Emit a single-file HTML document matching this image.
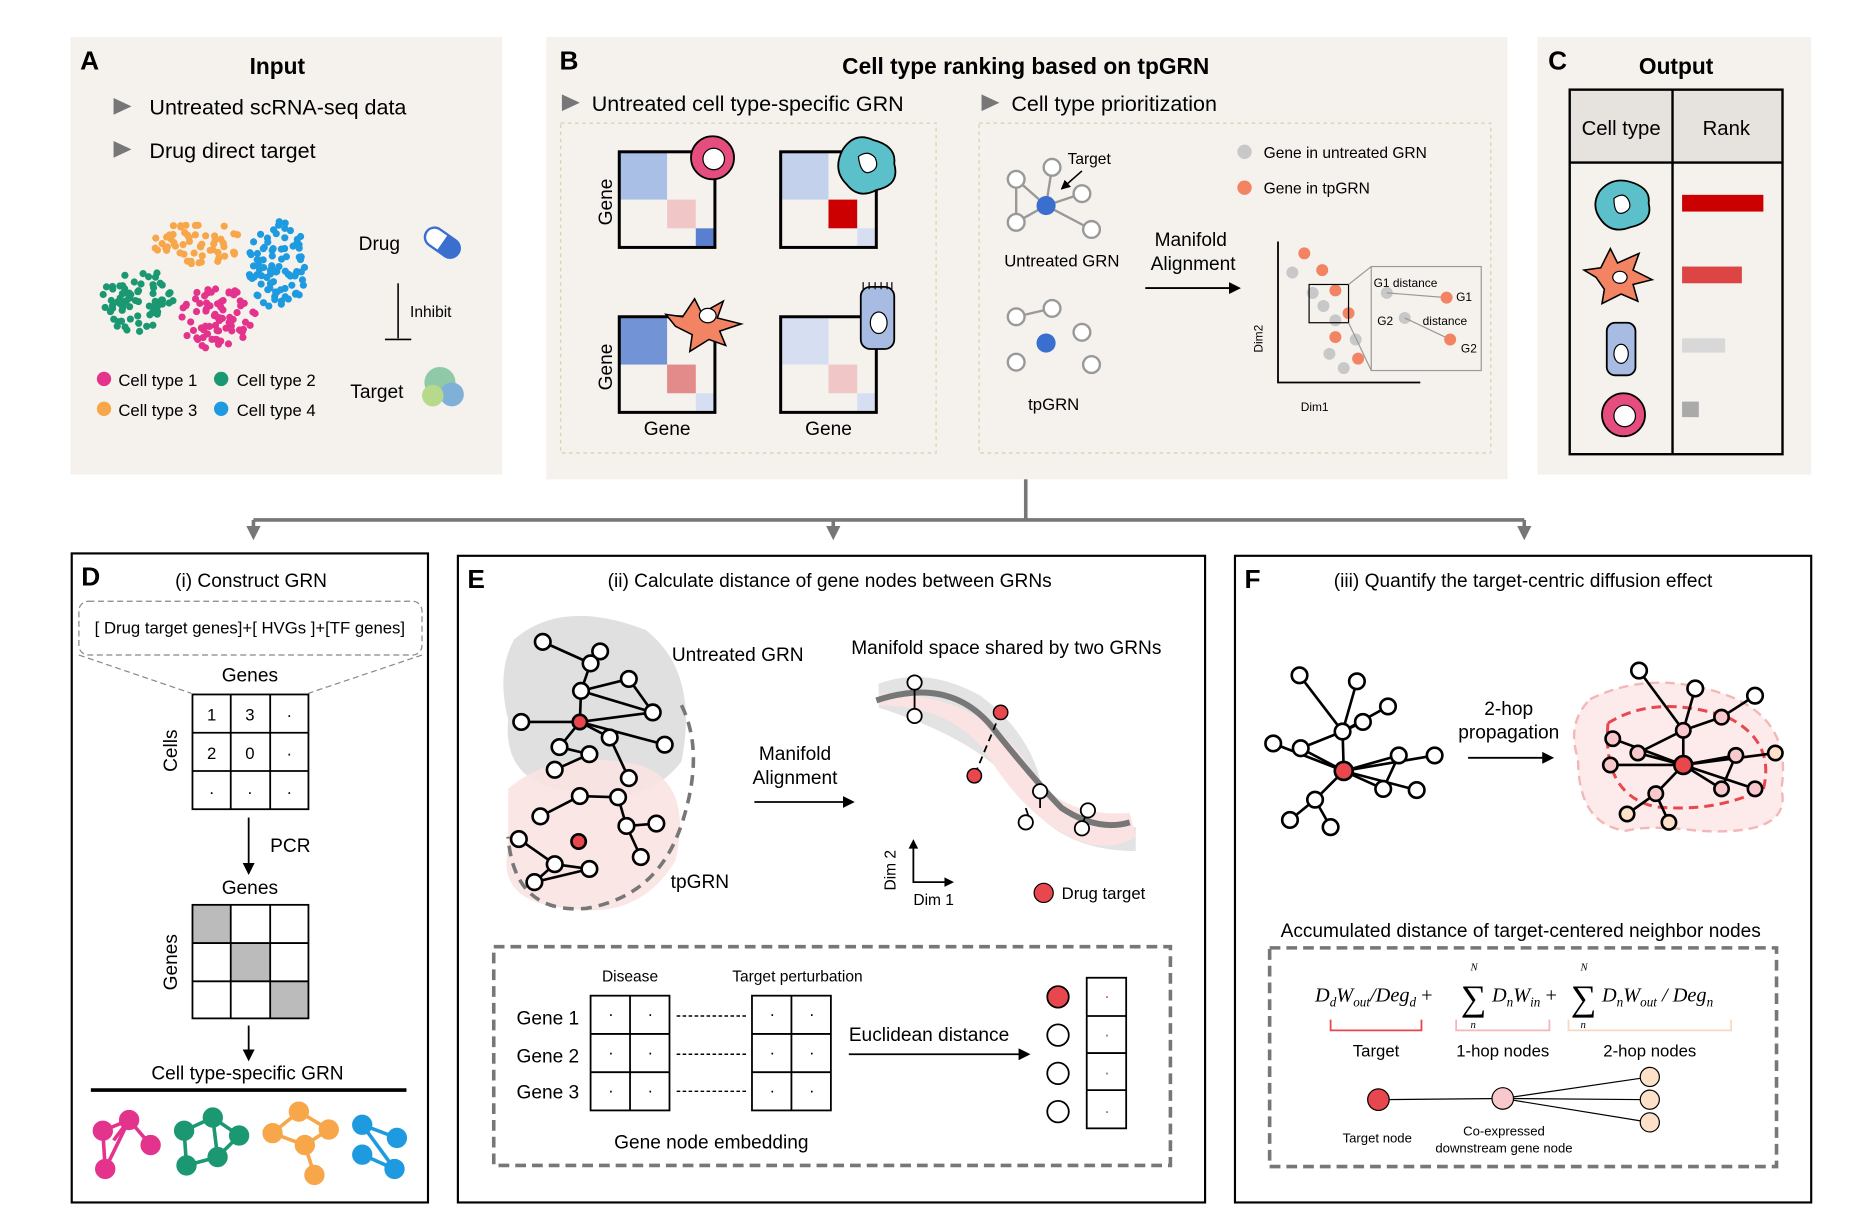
<!DOCTYPE html>
<html><head><meta charset="utf-8"><style>
html,body{margin:0;padding:0;background:#fff;}
svg{display:block;font-family:"Liberation Sans",Arial,sans-serif;}
</style></head><body>
<svg id="s" width="1865" height="1218" viewBox="0 0 1560 1019" preserveAspectRatio="none" xmlns="http://www.w3.org/2000/svg">
<defs>
<marker id="ah" markerWidth="10" markerHeight="10" refX="8" refY="5" orient="auto" markerUnits="userSpaceOnUse"><path d="M0,0 L10,5 L0,10 z" fill="#000"/></marker>
<marker id="ag" markerWidth="12" markerHeight="12" refX="6" refY="6" orient="auto" markerUnits="userSpaceOnUse"><path d="M0,0 L12,6 L0,12 z" fill="#777"/></marker>
<marker id="as" markerWidth="8" markerHeight="8" refX="7" refY="4" orient="auto" markerUnits="userSpaceOnUse"><path d="M0,0 L8,4 L0,8 z" fill="#000"/></marker>
</defs>
<!-- Panel backgrounds -->
<rect x="59" y="31" width="361" height="366" fill="#f5f2ee"/>
<rect x="457" y="31" width="804" height="370" fill="#f5f2ee"/>
<rect x="1286" y="31" width="229" height="366" fill="#f5f2ee"/>

<!-- A -->
<text x="67" y="58" font-size="22" font-weight="bold">A</text>
<text x="232" y="62" font-size="19" font-weight="bold" text-anchor="middle">Input</text>
<path d="M95,82 L110,89 L95,96z" fill="#777"/><text x="125" y="96" font-size="18">Untreated scRNA-seq data</text>
<path d="M95,118 L110,125 L95,132z" fill="#777"/><text x="125" y="132" font-size="18">Drug direct target</text>
<g id="dots"></g>
<text x="300" y="209" font-size="16">Drug</text>
<g transform="translate(370,203) rotate(35)"><rect x="-16" y="-8" width="32" height="16" rx="8" fill="#fff" stroke="#3a6fd0" stroke-width="2"/><path d="M0,-8 h8 a8,8 0 0 1 0,16 h-8z" fill="#3a6fd0"/></g>
<line x1="333" y1="237" x2="333" y2="283" stroke="#000" stroke-width="1.3"/><line x1="322" y1="284" x2="344" y2="284" stroke="#000" stroke-width="1.3"/>
<text x="343" y="265" font-size="13">Inhibit</text>
<text x="293" y="333" font-size="16">Target</text>
<g><circle cx="368" cy="320" r="13" fill="#8fc9a8"/><circle cx="378" cy="330" r="10" fill="#7fb0d8"/><circle cx="362" cy="331" r="9" fill="#b7d98b"/></g>
<circle cx="87" cy="317" r="6" fill="#e4338c"/><text x="99" y="323" font-size="14">Cell type 1</text>
<circle cx="185" cy="317" r="6" fill="#1b9772"/><text x="198" y="323" font-size="14">Cell type 2</text>
<circle cx="87" cy="342" r="6" fill="#f7a64a"/><text x="99" y="348" font-size="14">Cell type 3</text>
<circle cx="185" cy="342" r="6" fill="#1e9be0"/><text x="198" y="348" font-size="14">Cell type 4</text>

<!-- B -->
<text x="468" y="58" font-size="22" font-weight="bold">B</text>
<text x="858" y="62" font-size="19" font-weight="bold" text-anchor="middle">Cell type ranking based on tpGRN</text>
<path d="M470,79 L485,86 L470,93z" fill="#777"/><text x="495" y="93" font-size="18">Untreated cell type-specific GRN</text>
<path d="M821,79 L836,86 L821,93z" fill="#777"/><text x="846" y="93" font-size="18">Cell type prioritization</text>
<rect x="469" y="103" width="314" height="276" fill="none" stroke="#d8cfae" stroke-dasharray="3,3"/>
<rect x="819" y="103" width="428" height="276" fill="none" stroke="#d8cfae" stroke-dasharray="3,3"/>
<!-- matrices -->
<g stroke="none">
<rect x="518" y="127" width="40" height="40" fill="#a9bfe5"/><rect x="558" y="167" width="24" height="24" fill="#f1c6c6"/><rect x="582" y="191" width="16" height="16" fill="#5b7fcf"/>
<rect x="653" y="127" width="40" height="40" fill="#c4d1ec"/><rect x="693" y="167" width="24" height="24" fill="#c00"/><rect x="717" y="191" width="16" height="16" fill="#d6def2"/>
<rect x="518" y="265" width="40" height="40" fill="#7294d6"/><rect x="558" y="305" width="24" height="24" fill="#e38b8b"/><rect x="582" y="329" width="16" height="16" fill="#d6def2"/>
<rect x="653" y="265" width="40" height="40" fill="#d6def2"/><rect x="693" y="305" width="24" height="24" fill="#f1c6c6"/><rect x="717" y="329" width="16" height="16" fill="#d6def2"/>
</g>
<g fill="none" stroke="#000" stroke-width="2.5">
<rect x="518" y="127" width="80" height="80"/><rect x="653" y="127" width="80" height="80"/>
<rect x="518" y="265" width="80" height="80"/><rect x="653" y="265" width="80" height="80"/>
</g>
<text transform="translate(512,169) rotate(-90)" font-size="16" text-anchor="middle">Gene</text>
<text transform="translate(512,307) rotate(-90)" font-size="16" text-anchor="middle">Gene</text>
<text x="558" y="364" font-size="16" text-anchor="middle">Gene</text>
<text x="693" y="364" font-size="16" text-anchor="middle">Gene</text>
<!-- cell icons -->
<circle cx="596" cy="132" r="18" fill="#e54d7f" stroke="#000" stroke-width="1.5"/><circle cx="597" cy="133" r="9" fill="#fff" stroke="#000"/>
<path d="M705,125 q10,-15 25,-8 q20,5 18,20 q5,18 -15,22 q-15,8 -25,-5 q-12,-12 -3,-29z" fill="#5bc0c9" stroke="#000" stroke-width="1.5"/><path d="M718,131 q8,-6 14,1 q4,9 -4,12 q-8,3 -10,-13z" fill="#fff" stroke="#000"/>
<path d="M565,273 l-8,-10 l14,2 l10,-15 l6,12 l18,-10 l-5,14 l20,5 l-18,6 l5,12 l-14,-5 l-16,10 l2,-14z" fill="#f28363" stroke="#000" stroke-width="1.3"/><ellipse cx="592" cy="264" rx="7" ry="6" fill="#fff" stroke="#000"/>
<rect x="720" y="240" width="28" height="52" rx="8" fill="#a8bce3" stroke="#000" stroke-width="1.5"/><path d="M722,242 v-6 M727,242 v-6 M732,242 v-6 M737,242 v-6 M742,242 v-6 M746,242 v-6" stroke="#000"/><ellipse cx="735" cy="270" rx="7" ry="9" fill="#fff" stroke="#000"/>
<!-- graphs in B -->
<g stroke="#999" stroke-width="2" fill="#fff">
<line x1="875" y1="172" x2="850" y2="150"/><line x1="875" y1="172" x2="880" y2="140"/><line x1="875" y1="172" x2="905" y2="162"/><line x1="875" y1="172" x2="850" y2="186"/><line x1="875" y1="172" x2="913" y2="192"/><line x1="850" y1="186" x2="850" y2="150"/>
<circle cx="850" cy="150" r="7"/><circle cx="880" cy="140" r="7"/><circle cx="905" cy="162" r="7"/><circle cx="850" cy="186" r="7"/><circle cx="913" cy="192" r="7"/>
<line x1="850" y1="265" x2="880" y2="258"/>
<circle cx="850" cy="265" r="7"/><circle cx="880" cy="258" r="7"/><circle cx="905" cy="278" r="7"/><circle cx="850" cy="303" r="7"/><circle cx="913" cy="305" r="7"/>
</g>
<circle cx="875" cy="172" r="8" fill="#3a6fd0"/><circle cx="875" cy="287" r="8" fill="#3a6fd0"/>
<line x1="905" y1="143" x2="888" y2="158" stroke="#000" stroke-width="1.3" marker-end="url(#as)"/>
<text x="893" y="137" font-size="13">Target</text>
<text x="840" y="223" font-size="14">Untreated GRN</text>
<text x="860" y="343" font-size="14">tpGRN</text>
<text x="996" y="206" font-size="16" text-anchor="middle">Manifold</text>
<text x="998" y="226" font-size="16" text-anchor="middle">Alignment</text>
<line x1="958" y1="241" x2="1036" y2="241" stroke="#000" stroke-width="1.5" marker-end="url(#ah)"/>
<circle cx="1041" cy="127" r="6" fill="#c8c8c8"/><text x="1057" y="132" font-size="13">Gene in untreated GRN</text>
<circle cx="1041" cy="157" r="6" fill="#f28363"/><text x="1057" y="162" font-size="13">Gene in tpGRN</text>
<polyline points="1069,202 1069,320 1188,320" fill="none" stroke="#000" stroke-width="1.5"/>
<text transform="translate(1056,295) rotate(-90)" font-size="10">Dim2</text>
<text x="1088" y="344" font-size="10">Dim1</text>
<g fill="#c8c8c8"><circle cx="1081" cy="228" r="5"/><circle cx="1098" cy="245" r="5"/><circle cx="1107" cy="256" r="5"/><circle cx="1117" cy="268" r="5"/><circle cx="1112" cy="296" r="5"/><circle cx="1124" cy="308" r="5"/><circle cx="1134" cy="284" r="5"/></g>
<g fill="#f28363"><circle cx="1091" cy="212" r="5"/><circle cx="1106" cy="226" r="5"/><circle cx="1117" cy="243" r="5"/><circle cx="1128" cy="262" r="5"/><circle cx="1117" cy="282" r="5"/><circle cx="1136" cy="300" r="5"/></g>
<rect x="1095" y="238" width="33" height="32" fill="none" stroke="#000"/>
<line x1="1128" y1="238" x2="1147" y2="223" stroke="#999"/><line x1="1128" y1="270" x2="1147" y2="310" stroke="#999"/>
<rect x="1147" y="223" width="92" height="87" fill="#f5f2ee" stroke="#999"/>
<text x="1149" y="240" font-size="10">G1 distance</text><circle cx="1160" cy="245" r="5" fill="#c8c8c8"/><line x1="1160" y1="245" x2="1210" y2="249" stroke="#999"/><circle cx="1210" cy="249" r="5" fill="#f28363"/><text x="1218" y="252" font-size="10">G1</text>
<text x="1152" y="272" font-size="10">G2</text><circle cx="1175" cy="266" r="5" fill="#c8c8c8"/><line x1="1175" y1="266" x2="1213" y2="284" stroke="#999"/><circle cx="1213" cy="284" r="5" fill="#f28363"/><text x="1190" y="272" font-size="10">distance</text><text x="1222" y="295" font-size="10">G2</text>

<!-- C -->
<text x="1295" y="58" font-size="22" font-weight="bold">C</text>
<text x="1402" y="62" font-size="19" font-weight="bold" text-anchor="middle">Output</text>
<rect x="1313" y="75" width="178" height="61" fill="#e6e2de"/>
<rect x="1313" y="75" width="178" height="305" fill="none" stroke="#000" stroke-width="2"/>
<line x1="1313" y1="136" x2="1491" y2="136" stroke="#000" stroke-width="2"/>
<line x1="1399" y1="75" x2="1399" y2="380" stroke="#000" stroke-width="2"/>
<text x="1356" y="113" font-size="17" text-anchor="middle">Cell type</text>
<text x="1444" y="113" font-size="17" text-anchor="middle">Rank</text>
<path d="M1338,160 q10,-12 25,-8 q18,5 16,18 q4,16 -15,20 q-15,6 -24,-5 q-10,-12 -2,-25z" fill="#5bc0c9" stroke="#000" stroke-width="1.5"/><path d="M1350,166 q8,-6 12,1 q4,8 -4,11 q-8,3 -8,-12z" fill="#fff" stroke="#000"/>
<path d="M1335,232 l-10,-6 l14,-2 l8,-16 l6,12 l18,-8 l-5,14 l16,8 l-16,4 l4,14 l-14,-6 l-16,8 l2,-12z" fill="#f28363" stroke="#000" stroke-width="1.3"/><ellipse cx="1355" cy="232" rx="6" ry="5" fill="#fff" stroke="#000"/>
<rect x="1344" y="270" width="24" height="44" rx="7" fill="#a8bce3" stroke="#000" stroke-width="1.5"/><ellipse cx="1356" cy="296" rx="6" ry="8" fill="#fff" stroke="#000"/>
<circle cx="1358" cy="347" r="18" fill="#e54d7f" stroke="#000" stroke-width="1.5"/><circle cx="1359" cy="348" r="9" fill="#fff" stroke="#000"/>
<rect x="1407" y="163" width="68" height="14" fill="#c00"/>
<rect x="1407" y="223" width="50" height="14" fill="#d44"/>
<rect x="1407" y="283" width="36" height="12" fill="#d8d8d8"/>
<rect x="1407" y="336" width="14" height="13" fill="#aaa"/>

<!-- connectors -->
<g stroke="#777" stroke-width="3" fill="none">
<line x1="858" y1="401" x2="858" y2="435"/><line x1="212" y1="435" x2="1275" y2="435"/>
<line x1="212" y1="435" x2="212" y2="446" marker-end="url(#ag)"/>
<line x1="697" y1="435" x2="697" y2="446" marker-end="url(#ag)"/>
<line x1="1275" y1="435" x2="1275" y2="446" marker-end="url(#ag)"/>
</g>

<!-- D -->
<rect x="60" y="463" width="298" height="543" fill="none" stroke="#000" stroke-width="1.8"/>
<text x="68" y="490" font-size="22" font-weight="bold">D</text>
<text x="210" y="491" font-size="16" text-anchor="middle">(i) Construct GRN</text>
<rect x="66" y="503" width="287" height="45" rx="8" fill="none" stroke="#888" stroke-dasharray="5,3"/>
<text x="209" y="530" font-size="14" text-anchor="middle">[ Drug target genes]+[ HVGs ]+[TF genes]</text>
<line x1="66" y1="548" x2="160" y2="580" stroke="#888" stroke-dasharray="5,3"/><line x1="353" y1="548" x2="258" y2="580" stroke="#888" stroke-dasharray="5,3"/>
<text x="209" y="570" font-size="16" text-anchor="middle">Genes</text>
<g stroke="#000" stroke-width="1.5" fill="none"><rect x="161" y="581" width="97" height="96"/><line x1="193" y1="581" x2="193" y2="677"/><line x1="226" y1="581" x2="226" y2="677"/><line x1="161" y1="613" x2="258" y2="613"/><line x1="161" y1="645" x2="258" y2="645"/></g>
<g font-size="14" text-anchor="middle"><text x="177" y="603">1</text><text x="209" y="603">3</text><text x="242" y="603">·</text><text x="177" y="635">2</text><text x="209" y="635">0</text><text x="242" y="635">·</text><text x="177" y="667">·</text><text x="209" y="667">·</text><text x="242" y="667">·</text></g>
<text transform="translate(148,628) rotate(-90)" font-size="16" text-anchor="middle">Cells</text>
<line x1="208" y1="684" x2="208" y2="730" stroke="#000" stroke-width="1.5" marker-end="url(#ah)"/>
<text x="226" y="713" font-size="16">PCR</text>
<text x="209" y="748" font-size="16" text-anchor="middle">Genes</text>
<g fill="#bbb"><rect x="161" y="757" width="32" height="32"/><rect x="193" y="789" width="33" height="32"/><rect x="226" y="821" width="32" height="31"/></g>
<g stroke="#000" stroke-width="1.5" fill="none"><rect x="161" y="757" width="97" height="95"/><line x1="193" y1="757" x2="193" y2="852"/><line x1="226" y1="757" x2="226" y2="852"/><line x1="161" y1="789" x2="258" y2="789"/><line x1="161" y1="821" x2="258" y2="821"/></g>
<text transform="translate(148,805) rotate(-90)" font-size="16" text-anchor="middle">Genes</text>
<line x1="208" y1="858" x2="208" y2="886" stroke="#000" stroke-width="1.5" marker-end="url(#ah)"/>
<text x="207" y="903" font-size="16" text-anchor="middle">Cell type-specific GRN</text>
<line x1="76" y1="912" x2="340" y2="912" stroke="#000" stroke-width="3"/>
<g stroke-width="3">
<g stroke="#e4338c" fill="#e4338c"><line x1="86" y1="946" x2="108" y2="937"/><line x1="108" y1="937" x2="126" y2="958"/><line x1="86" y1="946" x2="88" y2="978"/><line x1="108" y1="937" x2="88" y2="978"/><line x1="108" y1="937" x2="95" y2="954"/><circle cx="86" cy="946" r="7"/><circle cx="108" cy="937" r="7"/><circle cx="126" cy="958" r="7"/><circle cx="88" cy="978" r="7"/></g>
<g stroke="#1b9772" fill="#1b9772"><line x1="154" y1="946" x2="178" y2="935"/><line x1="178" y1="935" x2="200" y2="950"/><line x1="154" y1="946" x2="156" y2="975"/><line x1="156" y1="975" x2="182" y2="968"/><line x1="178" y1="935" x2="182" y2="968"/><line x1="200" y1="950" x2="182" y2="968"/><circle cx="154" cy="946" r="7"/><circle cx="178" cy="935" r="7"/><circle cx="200" cy="950" r="7"/><circle cx="156" cy="975" r="7"/><circle cx="182" cy="968" r="7"/></g>
<g stroke="#f7a64a" fill="#f7a64a"><line x1="228" y1="948" x2="250" y2="930"/><line x1="250" y1="930" x2="275" y2="945"/><line x1="228" y1="948" x2="255" y2="958"/><line x1="255" y1="958" x2="275" y2="945"/><line x1="255" y1="958" x2="263" y2="983"/><circle cx="228" cy="948" r="7"/><circle cx="250" cy="930" r="7"/><circle cx="275" cy="945" r="7"/><circle cx="255" cy="958" r="7"/><circle cx="263" cy="983" r="7"/></g>
<g stroke="#1e9be0" fill="#1e9be0"><line x1="303" y1="941" x2="332" y2="952"/><line x1="303" y1="941" x2="330" y2="978"/><line x1="303" y1="966" x2="330" y2="978"/><circle cx="303" cy="941" r="7"/><circle cx="332" cy="952" r="7"/><circle cx="303" cy="966" r="7"/><circle cx="330" cy="978" r="7"/></g>
</g>

<!-- E -->
<rect x="383" y="465" width="625" height="541" fill="none" stroke="#000" stroke-width="1.8"/>
<text x="391" y="492" font-size="22" font-weight="bold">E</text>
<text x="694" y="491" font-size="16" text-anchor="middle">(ii) Calculate distance of gene nodes between GRNs</text>
<path d="M430,535 q40,-35 110,-8 q45,35 30,110 q-30,40 -90,25 q-60,-5 -55,-60 q-10,-40 5,-67z" fill="#e0e0e0"/>
<path d="M425,660 q40,-35 110,-20 q45,15 30,80 q-30,50 -90,40 q-60,-5 -50,-50z" fill="#fbe3e3" opacity="0.9"/>
<path d="M570,590 q20,40 0,100 q-20,60 -80,70 q-60,5 -65,-60" fill="none" stroke="#777" stroke-width="3" stroke-dasharray="9,6"/>
<g id="eg" stroke="#000" stroke-width="2.2" fill="#fff"></g>
<text x="562" y="553" font-size="16">Untreated GRN</text>
<text x="561" y="743" font-size="16">tpGRN</text>
<text x="665" y="636" font-size="16" text-anchor="middle">Manifold</text>
<text x="665" y="656" font-size="16" text-anchor="middle">Alignment</text>
<line x1="631" y1="671" x2="713" y2="671" stroke="#000" stroke-width="1.5" marker-end="url(#ah)"/>
<text x="712" y="547" font-size="16">Manifold space shared by two GRNs</text>
<path d="M735,572 q40,-15 85,10 q40,30 50,70 q20,40 80,40 l0,20 q-60,0 -90,-40 q-30,-50 -125,-80z" fill="#e3e3e3"/>
<path d="M735,590 q60,0 90,40 q30,50 70,70 q30,15 55,0 l-5,-20 q-60,5 -85,-40 q-40,-60 -125,-60z" fill="#fbe3e3"/>
<path d="M733,586 q60,-20 95,20 q40,50 60,70 q30,20 57,12" fill="none" stroke="#777" stroke-width="5"/>
<g stroke="#000" stroke-width="1.5"><line x1="765" y1="572" x2="765" y2="598"/><line x1="870" y1="662" x2="870" y2="676"/><line x1="910" y1="678" x2="905" y2="690"/><line x1="858" y1="676" x2="862" y2="688"/></g>
<line x1="837" y1="596" x2="815" y2="649" stroke="#000" stroke-width="1.5" stroke-dasharray="6,4"/>
<g stroke="#000" stroke-width="1.5" fill="#fff"><circle cx="765" cy="571" r="6"/><circle cx="765" cy="599" r="6"/><circle cx="870" cy="662" r="6"/><circle cx="910" cy="678" r="6"/><circle cx="858" cy="688" r="6"/><circle cx="905" cy="693" r="6"/></g>
<g fill="#e8474e" stroke="#000" stroke-width="1.2"><circle cx="837" cy="596" r="6"/><circle cx="815" cy="649" r="6"/></g>
<polyline points="764,705 764,738 796,738" fill="none" stroke="#000" stroke-width="1.5"/><path d="M760,710 l4,-8 l4,8z"/><path d="M790,734 l8,4 l-8,4z"/>
<text transform="translate(749,745) rotate(-90)" font-size="13">Dim 2</text>
<text x="764" y="757" font-size="13">Dim 1</text>
<circle cx="873" cy="747" r="8" fill="#e8474e" stroke="#000"/><text x="888" y="752" font-size="14">Drug target</text>
<rect x="413" y="792" width="566" height="183" fill="none" stroke="#777" stroke-width="3" stroke-dasharray="9,5"/>
<text x="527" y="821" font-size="13" text-anchor="middle">Disease</text>
<text x="667" y="821" font-size="13" text-anchor="middle">Target perturbation</text>
<g stroke="#000" stroke-width="1.5" fill="none">
<rect x="494" y="833" width="66" height="96"/><line x1="527" y1="833" x2="527" y2="929"/><line x1="494" y1="865" x2="560" y2="865"/><line x1="494" y1="897" x2="560" y2="897"/>
<rect x="629" y="833" width="66" height="96"/><line x1="662" y1="833" x2="662" y2="929"/><line x1="629" y1="865" x2="695" y2="865"/><line x1="629" y1="897" x2="695" y2="897"/>
<rect x="909" y="818" width="33" height="126"/><line x1="909" y1="850" x2="942" y2="850"/><line x1="909" y1="881" x2="942" y2="881"/><line x1="909" y1="912" x2="942" y2="912"/>
</g>
<g font-size="14" text-anchor="middle"><text x="511" y="853">·</text><text x="544" y="853">·</text><text x="511" y="885">·</text><text x="544" y="885">·</text><text x="511" y="917">·</text><text x="544" y="917">·</text><text x="646" y="853">·</text><text x="679" y="853">·</text><text x="646" y="885">·</text><text x="679" y="885">·</text><text x="646" y="917">·</text><text x="679" y="917">·</text><text x="926" y="838" fill="#e8474e">·</text><text x="926" y="870" fill="#777">·</text><text x="926" y="902" fill="#777">·</text><text x="926" y="934" fill="#777">·</text></g>
<text x="432" y="857" font-size="16">Gene 1</text><text x="432" y="889" font-size="16">Gene 2</text><text x="432" y="919" font-size="16">Gene 3</text>
<g stroke="#000" stroke-dasharray="3,2" stroke-width="1.2"><line x1="566" y1="850" x2="624" y2="850"/><line x1="566" y1="882" x2="624" y2="882"/><line x1="566" y1="913" x2="624" y2="913"/></g>
<text x="595" y="961" font-size="16" text-anchor="middle">Gene node embedding</text>
<text x="710" y="871" font-size="16">Euclidean distance</text>
<line x1="710" y1="882" x2="860" y2="882" stroke="#000" stroke-width="1.5" marker-end="url(#ah)"/>
<g stroke="#000" stroke-width="1.5" fill="#fff"><circle cx="885" cy="834" r="9" fill="#e8474e"/><circle cx="885" cy="866" r="9"/><circle cx="885" cy="898" r="9"/><circle cx="885" cy="930" r="9"/></g>

<!-- F -->
<rect x="1033" y="465" width="482" height="541" fill="none" stroke="#000" stroke-width="1.8"/>
<text x="1041" y="492" font-size="22" font-weight="bold">F</text>
<text x="1274" y="491" font-size="16" text-anchor="middle">(iii) Quantify the target-centric diffusion effect</text>
<path d="M1330,585 q50,-25 110,-5 q60,20 50,80 q10,40 -70,35 q-40,-5 -60,0 q-40,-5 -40,-60 q-10,-30 10,-50z" fill="#fdeaea" stroke="#f4b7b7" stroke-width="2" stroke-dasharray="8,5"/>
<path d="M1345,605 q40,-25 100,-5 q40,20 30,60 q-40,20 -90,15 q-45,-10 -40,-70z" fill="none" stroke="#e8474e" stroke-width="2.5" stroke-dasharray="8,5"/>
<g id="fg" stroke="#000" stroke-width="2.2" fill="#fff"></g>
<text x="1262" y="598" font-size="16" text-anchor="middle">2-hop</text>
<text x="1262" y="618" font-size="16" text-anchor="middle">propagation</text>
<line x1="1228" y1="634" x2="1298" y2="634" stroke="#000" stroke-width="1.5" marker-end="url(#ah)"/>
<text x="1272" y="784" font-size="16" text-anchor="middle">Accumulated distance of target-centered neighbor nodes</text>
<rect x="1062" y="793" width="424" height="183" fill="none" stroke="#777" stroke-width="3" stroke-dasharray="9,5"/>
<g font-family="Liberation Serif,serif" font-style="italic" font-size="17">
<text x="1100" y="838">D<tspan font-size="11" dy="4">d</tspan><tspan dy="-4">W</tspan><tspan font-size="11" dy="4">out</tspan><tspan dy="-4">/Deg</tspan><tspan font-size="11" dy="4">d</tspan><tspan dy="-4" font-style="normal"> +</tspan></text>
<text x="1222" y="845" font-size="30" font-style="normal">∑</text><text x="1230" y="812" font-size="9">N</text><text x="1230" y="860" font-size="9">n</text>
<text x="1248" y="838">D<tspan font-size="11" dy="4">n</tspan><tspan dy="-4">W</tspan><tspan font-size="11" dy="4">in</tspan><tspan dy="-4" font-style="normal"> +</tspan></text>
<text x="1314" y="845" font-size="30" font-style="normal">∑</text><text x="1322" y="812" font-size="9">N</text><text x="1322" y="860" font-size="9">n</text>
<text x="1340" y="838">D<tspan font-size="11" dy="4">n</tspan><tspan dy="-4">W</tspan><tspan font-size="11" dy="4">out</tspan><tspan dy="-4"> / Deg</tspan><tspan font-size="11" dy="4">n</tspan></text>
</g>
<path d="M1113,853 v9 h76 v-9" fill="none" stroke="#e8474e" stroke-width="1.5"/>
<path d="M1218,853 v9 h78 v-9" fill="none" stroke="#f4b7b7" stroke-width="1.5"/>
<path d="M1312,853 v9 h136 v-9" fill="none" stroke="#f8d8c0" stroke-width="1.5"/>
<text x="1151" y="884" font-size="14" text-anchor="middle">Target</text>
<text x="1257" y="884" font-size="14" text-anchor="middle">1-hop nodes</text>
<text x="1380" y="884" font-size="14" text-anchor="middle">2-hop nodes</text>
<g stroke="#000" stroke-width="1"><line x1="1153" y1="920" x2="1257" y2="919"/><line x1="1257" y1="919" x2="1380" y2="901"/><line x1="1257" y1="919" x2="1380" y2="920"/><line x1="1257" y1="919" x2="1380" y2="939"/></g>
<circle cx="1153" cy="920" r="9" fill="#e8474e" stroke="#000"/>
<circle cx="1257" cy="919" r="9" fill="#f8c8cc" stroke="#000"/>
<g fill="#fde0c8" stroke="#000"><circle cx="1380" cy="901" r="8"/><circle cx="1380" cy="920" r="8"/><circle cx="1380" cy="939" r="8"/></g>
<text x="1152" y="956" font-size="11" text-anchor="middle">Target node</text>
<text x="1258" y="950" font-size="11" text-anchor="middle">Co-expressed</text>
<text x="1258" y="964" font-size="11" text-anchor="middle">downstream gene node</text>
</svg>
<script>
var NS="http://www.w3.org/2000/svg";
function el(p,t,a){var e=document.createElementNS(NS,t);for(var k in a)e.setAttribute(k,a[k]);p.appendChild(e);return e;}
var seed=7;function r(){seed=(seed*9301+49297)%233280;return seed/233280;}
var d=document.getElementById("dots");
[[164,203,38,18,"#f7a64a",60],[233,222,25,38,"#1e9be0",90],[115,251,30,27,"#1b9772",75],[181,266,33,26,"#e4338c",75]].forEach(function(c){
for(var i=0;i<c[5];i++){var a=r()*6.283,q=Math.sqrt(r());el(d,"circle",{cx:c[0]+Math.cos(a)*q*c[2],cy:c[1]+Math.sin(a)*q*c[3],r:3,fill:c[4]});}});
function graph(g,nodes,edges,fills){edges.forEach(function(e){el(g,"line",{x1:nodes[e[0]][0],y1:nodes[e[0]][1],x2:nodes[e[1]][0],y2:nodes[e[1]][1]});});
nodes.forEach(function(n,i){el(g,"circle",{cx:n[0],cy:n[1],r:n[2]||6.5,fill:(fills&&fills[i])||"#fff"});});}
var eg=document.getElementById("eg");
var N=[[485,604,6],[454,537],[502,545],[526,568],[486,578],[494,555],[436,604],[468,625],[510,617],[546,596],[556,623],[493,631],[464,644],[526,651],
[484,704,6],[452,683],[485,666],[517,667],[524,691],[549,689],[536,717],[434,702],[464,723],[493,727],[447,738]];
graph(eg,N,[[0,4],[4,5],[5,1],[5,2],[4,3],[0,6],[0,7],[0,8],[0,9],[0,10],[7,11],[11,12],[8,13],[4,9],[3,9],[16,15],[16,17],[17,18],[18,19],[18,20],[22,23],[22,24],[22,21],[23,24]],{0:"#e8474e",14:"#e8474e"});
var fg=document.getElementById("fg");
var F=[[1124,645,7.5],[1087,565],[1135,570],[1161,591],[1123,612],[1065,622],[1088,626],[1170,632],[1200,632],[1185,661],[1100,669],[1079,686],[1113,692],[1157,660],[1140,604]];
graph(fg,F,[[0,4],[4,2],[4,1],[4,3],[0,5],[0,6],[0,7],[0,8],[0,9],[0,10],[10,11],[10,12],[0,13],[4,14],[7,13],[6,4]],{0:"#e8474e"});
var fg2=el(document.getElementById("s"),"g",{stroke:"#000","stroke-width":"2.2"});
var G=[[1408,640,7.5],[1371,561],[1418,576],[1440,600,6,"#f8c8cc"],[1408,611,6,"#f8c8cc"],[1349,618,6,"#f8c8cc"],[1370,630,6,"#f8c8cc"],[1452,632,6,"#f8c8cc"],[1485,630,6,"#fde0c8"],[1468,660,6,"#f8c8cc"],[1385,664,6,"#f8c8cc"],[1361,681,6,"#fde0c8"],[1396,688,6,"#fde0c8"],[1440,660,6,"#f8c8cc"],[1468,582],[1347,640,6,"#f8c8cc"]];
graph(fg2,G,[[0,4],[4,2],[4,1],[4,3],[0,5],[0,6],[0,7],[0,8],[0,9],[0,10],[10,11],[10,12],[0,13],[3,14],[7,13],[6,4],[0,15]],G.map(function(n,i){return i==0?"#e8474e":(n[3]||"#fff");}));
</script>
</body></html>
